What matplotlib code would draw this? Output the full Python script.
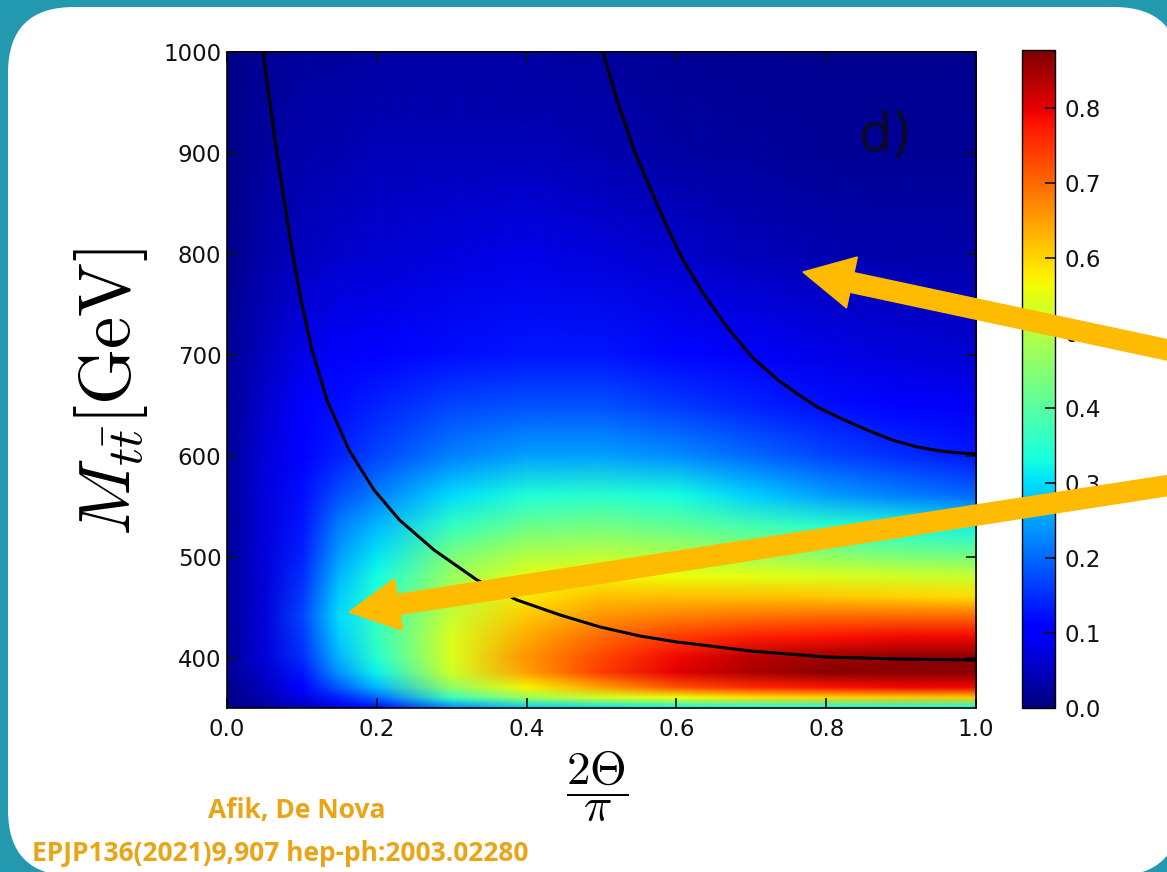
import matplotlib
matplotlib.use("Agg")
import matplotlib.pyplot as plt
import numpy as np
from matplotlib.image import NonUniformImage
from matplotlib.patches import FancyBboxPatch, FancyArrow
from matplotlib.transforms import IdentityTransform

W, H, DPI = 1167, 872, 100

# grid (x = 2Theta/pi, y = M_ttbar in GeV)
theta = [0.0, 0.05, 0.1, 0.15, 0.2, 0.3, 0.4, 0.5, 0.6, 0.7, 0.8, 0.9, 1.0]
mass = [350, 360, 370, 385, 400, 420, 440, 460, 480, 500, 530, 560, 600,
        650, 700, 800, 900, 1000]
values = [
    [0.01, 0.03, 0.05, 0.08, 0.12, 0.23, 0.29, 0.31, 0.32, 0.33, 0.33, 0.33, 0.33],
    [0.01, 0.04, 0.08, 0.14, 0.20, 0.37, 0.47, 0.53, 0.56, 0.59, 0.60, 0.61, 0.61],
    [0.01, 0.05, 0.10, 0.19, 0.27, 0.46, 0.57, 0.65, 0.72, 0.76, 0.78, 0.79, 0.79],
    [0.02, 0.06, 0.13, 0.24, 0.32, 0.53, 0.65, 0.74, 0.80, 0.84, 0.87, 0.87, 0.87],
    [0.02, 0.07, 0.15, 0.27, 0.35, 0.54, 0.66, 0.73, 0.79, 0.83, 0.85, 0.86, 0.86],
    [0.02, 0.07, 0.16, 0.29, 0.36, 0.54, 0.64, 0.70, 0.74, 0.77, 0.78, 0.79, 0.79],
    [0.02, 0.07, 0.17, 0.30, 0.36, 0.52, 0.61, 0.66, 0.68, 0.69, 0.70, 0.70, 0.70],
    [0.02, 0.07, 0.16, 0.29, 0.35, 0.50, 0.58, 0.62, 0.62, 0.62, 0.61, 0.60, 0.59],
    [0.02, 0.07, 0.15, 0.27, 0.33, 0.47, 0.55, 0.57, 0.56, 0.55, 0.54, 0.53, 0.52],
    [0.02, 0.07, 0.14, 0.25, 0.31, 0.44, 0.50, 0.51, 0.50, 0.48, 0.46, 0.44, 0.43],
    [0.02, 0.07, 0.13, 0.22, 0.27, 0.36, 0.42, 0.43, 0.41, 0.38, 0.35, 0.33, 0.32],
    [0.02, 0.07, 0.12, 0.18, 0.22, 0.30, 0.34, 0.35, 0.33, 0.29, 0.25, 0.22, 0.20],
    [0.02, 0.07, 0.11, 0.14, 0.17, 0.22, 0.25, 0.25, 0.23, 0.20, 0.17, 0.15, 0.13],
    [0.02, 0.06, 0.10, 0.12, 0.14, 0.17, 0.18, 0.18, 0.16, 0.14, 0.12, 0.10, 0.09],
    [0.02, 0.05, 0.08, 0.095, 0.105, 0.12, 0.13, 0.13, 0.115, 0.095, 0.08, 0.07, 0.065],
    [0.01, 0.035, 0.05, 0.06, 0.065, 0.075, 0.08, 0.07, 0.06, 0.045, 0.04, 0.035, 0.035],
    [0.01, 0.025, 0.035, 0.04, 0.045, 0.045, 0.045, 0.04, 0.03, 0.025, 0.02, 0.02, 0.02],
    [0.01, 0.02, 0.025, 0.025, 0.028, 0.028, 0.028, 0.024, 0.02, 0.016, 0.015, 0.015, 0.015],
]
vmax = 0.877

# the two black contour curves
curve1_x = [0.048, 0.0567, 0.0661, 0.0761, 0.0868, 0.0988, 0.1135, 0.1335, 0.1629,
            0.1963, 0.2303, 0.2764, 0.3338, 0.3872, 0.4446, 0.498, 0.5514, 0.6008,
            0.6983, 0.8011, 0.8985, 1.0]
curve1_m = [1000, 952.5, 902.9, 853.4, 803.9, 754.3, 704.7, 655.2, 605.6,
            566.0, 536.3, 506.6, 476.8, 457.0, 442.2, 430.3, 421.3, 415.4,
            406.5, 400.5, 398.5, 397.5]
curve2_x = [0.502, 0.5207, 0.5434, 0.5661, 0.5875, 0.6088, 0.6355, 0.6676, 0.7009,
            0.7356, 0.761, 0.7877, 0.8211, 0.8545, 0.8879, 0.9212, 0.9519, 0.9786, 1.0]
curve2_m = [1000, 952.5, 902.9, 863.3, 826.6, 793.9, 761.2, 727.5, 697.8,
            675.0, 661.6, 648.3, 636.4, 625.5, 615.6, 608.7, 604.7, 602.7, 601.7]

xticks = [0.0, 0.2, 0.4, 0.6, 0.8, 1.0]
yticks = [400, 500, 600, 700, 800, 900, 1000]
cbticks = [0.0, 0.1, 0.2, 0.3, 0.4, 0.5, 0.6, 0.7, 0.8]

plt.rcParams['mathtext.fontset'] = 'cm'
plt.rcParams['font.family'] = 'DejaVu Sans'

fig = plt.figure(figsize=(W / DPI, H / DPI), dpi=DPI, facecolor='#2299AE')

# white rounded panel on the teal background
panel = FancyBboxPatch((8, -4), 1172, H - 7 + 4,
                       boxstyle='round,pad=0,rounding_size=66',
                       transform=IdentityTransform(), facecolor='white',
                       edgecolor='none', zorder=-5)
fig.add_artist(panel)

ax = fig.add_axes([227 / W, 1 - 708 / H, (976 - 227) / W, (708 - 52) / H])
cax = fig.add_axes([1022 / W, 1 - 708 / H, 33 / W, (708 - 50) / H])

im = NonUniformImage(ax, interpolation='bilinear', cmap='jet',
                     extent=(0, 1, 350, 1000))
im.set_data(np.array(theta), np.array(mass, dtype=float), np.array(values))
im.set_clim(0, vmax)
ax.add_image(im)
ax.set_xlim(0, 1)
ax.set_ylim(350, 1000)

ax.plot(curve1_x, curve1_m, color='black', lw=2.2, solid_joinstyle='round')
ax.plot(curve2_x, curve2_m, color='black', lw=2.2, solid_joinstyle='round')

ax.set_xticks(xticks)
ax.set_yticks(yticks)
ax.tick_params(direction='in', length=7, width=1.2, top=True, right=True,
               labelsize=16.5, colors='#111111')
ax.tick_params(axis='x', pad=7)
ax.tick_params(axis='y', pad=4)
for s in ax.spines.values():
    s.set_linewidth(1.2)

ax.text(0.842, 902, 'd)', fontsize=38, color='#0a0a28', ha='left', va='baseline')

cb = fig.colorbar(im, cax=cax, ticks=cbticks, format='%.1f')
cax.tick_params(direction='in', length=7, width=1.2, labelsize=16.5, pad=7,
                colors='#111111')
cb.outline.set_linewidth(1.0)

fig.text(111 / W, 1 - 392 / H, r'$M_{t\bar{t}}[\mathrm{GeV}]$', fontsize=52,
         rotation=90, ha='center', va='center')
fig.text(597 / W, 1 - 786 / H, r'$\dfrac{2\Theta}{\pi}$', fontsize=34,
         ha='center', va='center')

orange = '#E9A516'
fig.text(297 / W, 1 - 810 / H, 'Afik, De Nova', fontsize=19, fontweight='bold',
         color=orange, ha='center', va='center', family='Open Sans')
fig.text(280 / W, 1 - 853 / H, 'EPJP136(2021)9,907 hep-ph:2003.02280', fontsize=19,
         fontweight='bold', color=orange, ha='center', va='center', family='Open Sans')

# orange arrows pointing into the map
fig.canvas.draw()
arrow_tips = [(0.769, 782), (0.163, 445)]
arrow_tails = [(1210, H - 359), (1210, H - 479)]
for tip, tail in zip(arrow_tips, arrow_tails):
    tx, ty = ax.transData.transform(tip)
    arr = FancyArrow(tail[0], tail[1], tx - tail[0], ty - tail[1], width=20,
                     head_width=52, head_length=50, length_includes_head=True,
                     color='#FFBB00', transform=IdentityTransform(), zorder=10)
    fig.add_artist(arr)

fig.savefig('out.png', dpi=DPI, facecolor=fig.get_facecolor())
